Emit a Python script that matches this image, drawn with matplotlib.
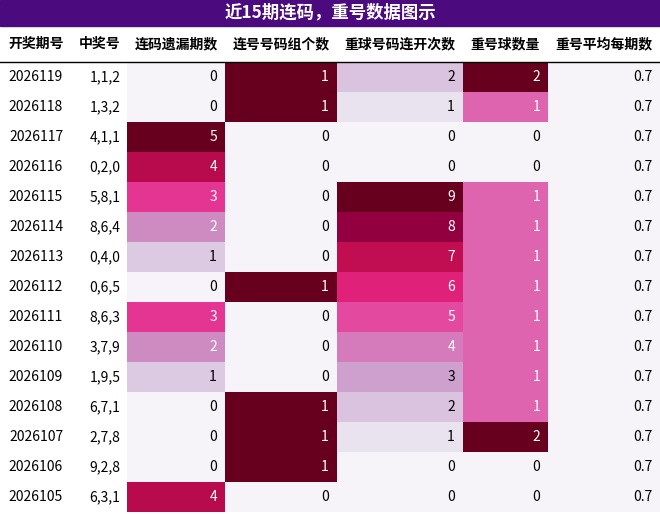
import matplotlib.pyplot as plt
from matplotlib.patches import Rectangle
import matplotlib as mpl

plt.rcParams['font.family'] = ['Noto Sans CJK SC', 'DejaVu Sans']

title = '近15期连码，重号数据图示'
headers = ['开奖期号', '中奖号', '连码遗漏期数', '连号号码组个数', '重球号码连开次数', '重号球数量', '重号平均每期数']
periods = ['2026119', '2026118', '2026117', '2026116', '2026115', '2026114', '2026113', '2026112',
           '2026111', '2026110', '2026109', '2026108', '2026107', '2026106', '2026105']
numbers = ['1,1,2', '1,3,2', '4,1,1', '0,2,0', '5,8,1', '8,6,4', '0,4,0', '0,6,5',
           '8,6,3', '3,7,9', '1,9,5', '6,7,1', '2,7,8', '9,2,8', '6,3,1']
lian_miss = [0, 0, 5, 4, 3, 2, 1, 0, 3, 2, 1, 0, 0, 0, 4]
lian_groups = [1, 1, 0, 0, 0, 0, 0, 1, 0, 0, 0, 1, 1, 1, 0]
chong_runs = [2, 1, 0, 0, 9, 8, 7, 6, 5, 4, 3, 2, 1, 0, 0]
chong_count = [2, 1, 0, 0, 1, 1, 1, 1, 1, 1, 1, 1, 2, 0, 0]
chong_avg = [0.7] * 15

edges = [0, 72, 127, 225, 337, 463, 548, 660]
title_h, head_bot, row_h = 26, 62, 30
W, H = 660, 514

fig = plt.figure(figsize=(6.6, 5.14), dpi=100)
ax = fig.add_axes([0, 0, 1, 1])
ax.set_xlim(0, W)
ax.set_ylim(H, 0)
ax.axis('off')

ax.add_patch(Rectangle((0, 0), W, title_h, color='#4b0a7e'))
ax.text(W / 2, title_h / 2, title, color='white', fontsize=12.5, fontweight='bold',
        ha='center', va='center')

for i, h in enumerate(headers):
    ax.text((edges[i] + edges[i + 1]) / 2, (title_h + head_bot) / 2, h, fontsize=10,
            fontweight='bold', ha='center', va='center')
ax.plot([0, W], [head_bot, head_bot], color='black', lw=1)

cmap = mpl.colormaps['PuRd']
cols = [lian_miss, lian_groups, chong_runs, chong_count, chong_avg]
for r in range(15):
    y0 = head_bot + r * row_h
    yc = y0 + row_h / 2
    ax.text(36, yc, periods[r], fontsize=10, ha='center', va='center')
    ax.text(105, yc, numbers[r], fontsize=10, ha='center', va='center')
    for c, vals in enumerate(cols):
        lo, hi = min(vals), max(vals)
        t = 0.0 if hi == lo else (vals[r] - lo) / (hi - lo)
        x0, x1 = edges[c + 2], edges[c + 3]
        ax.add_patch(Rectangle((x0, y0), x1 - x0, row_h, color=cmap(t), lw=0))
        txt = f'{vals[r]:g}'
        ax.text(x1 - 8, yc, txt, fontsize=10, ha='right', va='center',
                color='white' if t >= 0.4 else 'black')

fig.savefig('out.png', dpi=100)
